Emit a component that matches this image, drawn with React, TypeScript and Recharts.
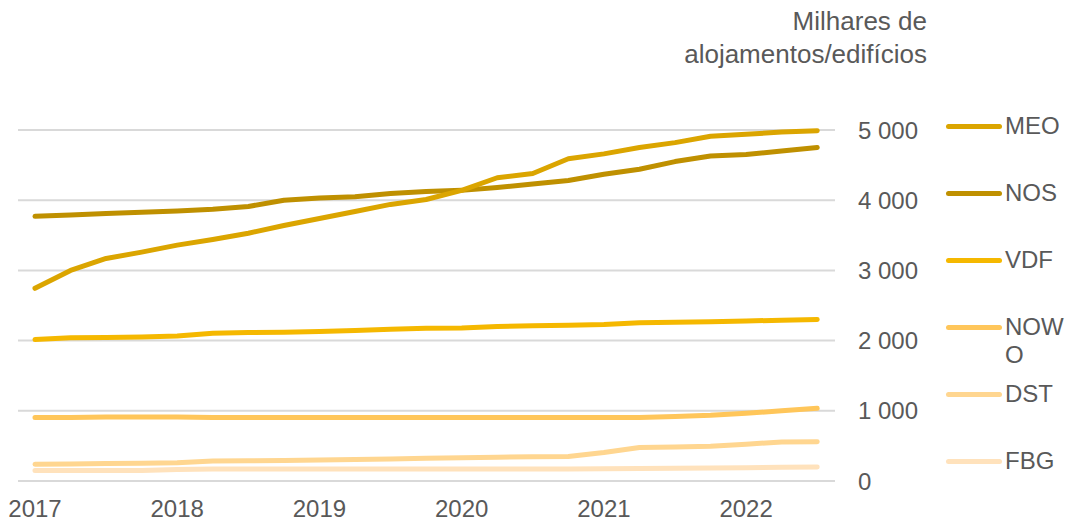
import { LineChart, Line, XAxis, YAxis, CartesianGrid } from 'recharts'

const quarters = [
  '2017T1', '2017T2', '2017T3', '2017T4',
  '2018T1', '2018T2', '2018T3', '2018T4',
  '2019T1', '2019T2', '2019T3', '2019T4',
  '2020T1', '2020T2', '2020T3', '2020T4',
  '2021T1', '2021T2', '2021T3', '2021T4',
  '2022T1', '2022T2', '2022T3',
]
const yearTicks = [0, 4, 8, 12, 16, 20]
const yearLabels = ['2017', '2018', '2019', '2020', '2021', '2022']
const yTicks = [0, 1000, 2000, 3000, 4000, 5000]

const meo = [2745, 3000, 3170, 3260, 3360, 3440, 3530, 3640, 3740, 3840, 3940, 4010, 4140, 4320, 4380, 4590, 4660, 4750, 4820, 4910, 4940, 4970, 4990]
const nos = [3770, 3790, 3810, 3830, 3845, 3870, 3910, 4000, 4030, 4050, 4095, 4125, 4140, 4180, 4230, 4280, 4370, 4440, 4550, 4630, 4650, 4700, 4750]
const vdf = [2015, 2040, 2045, 2050, 2065, 2105, 2115, 2120, 2130, 2145, 2160, 2175, 2180, 2200, 2210, 2220, 2230, 2255, 2260, 2270, 2280, 2290, 2300]
const nowo = [905, 905, 910, 910, 910, 905, 905, 905, 905, 905, 905, 905, 905, 905, 905, 905, 905, 905, 920, 935, 965, 1000, 1035]
const dst = [240, 242, 248, 252, 260, 285, 288, 292, 298, 305, 315, 325, 332, 340, 345, 350, 405, 478, 485, 495, 525, 555, 560]
const fbg = [150, 150, 150, 150, 165, 170, 170, 170, 170, 170, 170, 170, 170, 170, 170, 170, 175, 178, 180, 185, 190, 195, 200]

const series = [
  { key: 'MEO', values: meo, color: '#DBA500' },
  { key: 'NOS', values: nos, color: '#BF9000' },
  { key: 'VDF', values: vdf, color: '#F5B800' },
  { key: 'NOWO', values: nowo, color: '#FFC65A' },
  { key: 'DST', values: dst, color: '#FFD690' },
  { key: 'FBG', values: fbg, color: '#FFE2BC' },
]

const data = quarters.map((q, i) => {
  const row: Record<string, number | string> = { q, t: i }
  series.forEach(s => { row[s.key] = s.values[i] })
  return row
})

const font = '"Liberation Sans", Arial, sans-serif'
const grey = '#595959'

export default function App() {
  return (
    <div style={{ position: 'absolute', left: 0, top: 0, width: 1067, height: 521, background: '#fff', fontFamily: font }}>
      <div style={{ position: 'absolute', right: 140, top: 5, textAlign: 'right', fontSize: 26, lineHeight: '33px', color: grey }}>
        Milhares de<br />alojamentos/edifícios
      </div>
      <LineChart width={1067} height={521} data={data} margin={{ top: 130, right: 132, bottom: 0, left: 18 }}>
        <CartesianGrid vertical={false} stroke="#D9D9D9" strokeWidth={2} />
        <XAxis
          dataKey="t"
          type="number"
          domain={[-0.478, 22.5]}
          ticks={yearTicks}
          tickFormatter={(v: number) => yearLabels[yearTicks.indexOf(v)]}
          axisLine={false}
          tickLine={false}
          tickMargin={13}
          height={40}
          tick={{ fontSize: 24, fill: grey, fontFamily: font }}
          allowDataOverflow
        />
        <YAxis
          orientation="right"
          domain={[0, 5000]}
          ticks={yTicks}
          tickFormatter={(v: number) => v.toLocaleString('fr-FR').replace(/\u202f|\u00a0/g, ' ')}
          axisLine={false}
          tickLine={false}
          tickMargin={17}
          width={100}
          tick={{ fontSize: 24, fill: grey, fontFamily: font }}
        />
        {series.slice().reverse().map(s => (
          <Line
            key={s.key}
            dataKey={s.key}
            stroke={s.color}
            strokeWidth={5}
            strokeLinecap="round"
            strokeLinejoin="round"
            dot={false}
            activeDot={false}
            isAnimationActive={false}
          />
        ))}
      </LineChart>
      {series.map((s, i) => (
        <div key={s.key} style={{ position: 'absolute', left: 946, top: 112 + i * 67, display: 'flex', alignItems: 'flex-start' }}>
          <div style={{ width: 56, height: 5, borderRadius: 3, background: s.color, marginTop: 12 }} />
          <div style={{ width: 62, marginLeft: 3, fontSize: 24, lineHeight: '28px', color: grey, wordBreak: 'break-all' }}>{s.key}</div>
        </div>
      ))}
    </div>
  )
}
